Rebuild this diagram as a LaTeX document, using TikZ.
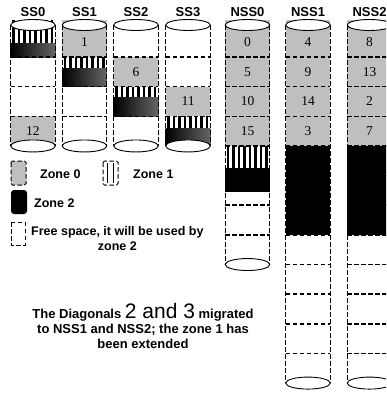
\documentclass[tikz,border=0pt]{standalone}
\usepackage{fontspec}
\setmainfont{Liberation Serif}
\setsansfont{Liberation Sans}
\usepackage{xcolor}
\usetikzlibrary{positioning}

% vertical black/white bars of zone 1, between y #2 and #3 of the cylinder at #1
\newcommand{\zoneonebars}[3]{%
  \begin{scope}
    \clip (#1-22.3,#2) rectangle (#1+22.3,#3);
    \fill[white] (#1-22.3,#2) rectangle (#1+22.3,#3);
    \foreach \s in {0,...,8}
      \fill[black] (#1-21+\s*5.5,#2) rectangle (#1-18.4+\s*5.5,#3);
  \end{scope}}

\begin{document}
\begin{tikzpicture}[
  x=1pt, y=-1pt,
  every node/.style={inner sep=0pt},
  cyllabel/.style={font=\sffamily\bfseries\fontsize{13}{15}\selectfont},
  num/.style={font=\fontsize{13.5}{15}\selectfont},
  legtext/.style={font=\sffamily\bfseries\fontsize{12.5}{15}\selectfont},
  zonezero/.style={fill=gray!50},
  zonetwo/.style={left color=black, right color=black!60},
  zonetwofull/.style={fill=black},
  divider/.style={line width=1.5pt, dash pattern=on 4.5pt off 2.5pt},
  side/.style={line width=1.3pt, dash pattern=on 4.5pt off 2.5pt},
  lid/.style={draw, fill=white, line width=0.9pt},
]
\useasboundingbox (0,0) rectangle (386,394);
\clip (0,0) rectangle (386,394);

% zone 0 blocks
\fill[zonezero] (10.7,116.32) rectangle (55.3,145.96);
\fill[zonezero] (62.2,20) rectangle (106.8,57.04);
\fill[zonezero] (113.7,57.04) rectangle (158.3,86.68);
\fill[zonezero] (165.7,86.68) rectangle (210.3,116.32);
\fill[zonezero] (225.2,20) rectangle (269.8,145.96);
\fill[zonezero] (285.7,20) rectangle (330.3,145.96);
\fill[zonezero] (347.2,20) rectangle (391.8,145.96);

% zone 1 blocks
\zoneonebars{33}{20}{43}
\zoneonebars{84.5}{57.04}{68.5}
\zoneonebars{136}{86.68}{97.5}
\zoneonebars{188}{116.32}{128}
\zoneonebars{247.5}{145.96}{168}

% zone 2 blocks
\fill[zonetwo] (10.7,43) rectangle (55.3,57.04);
\fill[zonetwo] (62.2,68.5) rectangle (106.8,86.68);
\fill[zonetwo] (113.7,97.5) rectangle (158.3,116.32);
\fill[zonetwo] (165.7,128) rectangle (210.3,145.96);
\fill[zonetwofull] (225.2,168) rectangle (269.8,192);
\fill[zonetwofull] (285.7,145.96) rectangle (330.3,234.88);
\fill[zonetwofull] (347.2,145.96) rectangle (391.8,234.88);

% cylinders
\foreach \cx/\n/\lab/\nm in {33/4/SS0/ss0, 84.5/4/SS1/ss1, 136/4/SS2/ss2,
    188/4/SS3/ss3, 247.5/8/NSS0/nss0, 308/12/NSS1/nss1, 369.5/12/NSS2/nss2} {
  \pgfmathsetmacro\yb{27.4+\n*29.64}
  \pgfmathtruncatemacro\m{\n-1}
  \foreach \k in {1,...,\m}
    \draw[divider] (\cx-22.3,{27.4+\k*29.64}) -- (\cx+22.3,{27.4+\k*29.64});
  \draw[side] (\cx-22.3,25) -- (\cx-22.3,\yb);
  \draw[side] (\cx+22.3,25) -- (\cx+22.3,\yb);
  \draw[lid] (\cx,25) ellipse[x radius=22.3pt, y radius=5.5pt];
  \draw[lid] (\cx,\yb) ellipse[x radius=22.3pt, y radius=6pt];
  \node[cyllabel] (\nm) at (\cx,12) {\lab};
}

% diagonal numbers
\node[num] (d12) at (33,131.1) {12};
\node[num] (d1) at (84.5,42.2) {1};
\node[num] (d6) at (136,71.9) {6};
\node[num] (d11) at (188,101.5) {11};
\foreach \t [count=\k from 0] in {0,5,10,15}
  \node[num] (a\k) at (247.5,{27.4+(\k+0.5)*29.64}) {\t};
\foreach \t [count=\k from 0] in {4,9,14,3}
  \node[num] (b\k) at (308,{27.4+(\k+0.5)*29.64}) {\t};
\foreach \t [count=\k from 0] in {8,13,2,7}
  \node[num] (c\k) at (369.5,{27.4+(\k+0.5)*29.64}) {\t};

% legend
\draw[zonezero, side, line width=1pt, rounded corners=1.5pt] (11,161) rectangle (26,185);
\node[legtext, anchor=west] (z0) at (40,174) {Zone 0};
\draw[side, line width=1pt, rounded corners=1.5pt] (103,161) rectangle (118,185);
\draw[line width=0.8pt] (107.5,163) -- (107.5,183) (113.5,163) -- (113.5,183);
\node[legtext, anchor=west] (z1) at (133,174) {Zone 1};
\fill[black, rounded corners=3pt] (11,190) rectangle (27,214);
\node[legtext, anchor=west] (z2) at (34,203) {Zone 2};
\draw[side, line width=1pt] (11,222) rectangle (25,245);
\node[legtext, anchor=north west, align=center] (free) at (31,226)
  {Free space, it will be used by\\zone 2};

\node[legtext, align=center, font=\sffamily\bfseries\fontsize{13}{15}\selectfont] (note) at (143,326)
  {The Diagonals {\mdseries\fontsize{21}{15}\selectfont 2 and 3} migrated\\
   to NSS1 and NSS2; the zone 1 has\\been extended};
\end{tikzpicture}
\end{document}
